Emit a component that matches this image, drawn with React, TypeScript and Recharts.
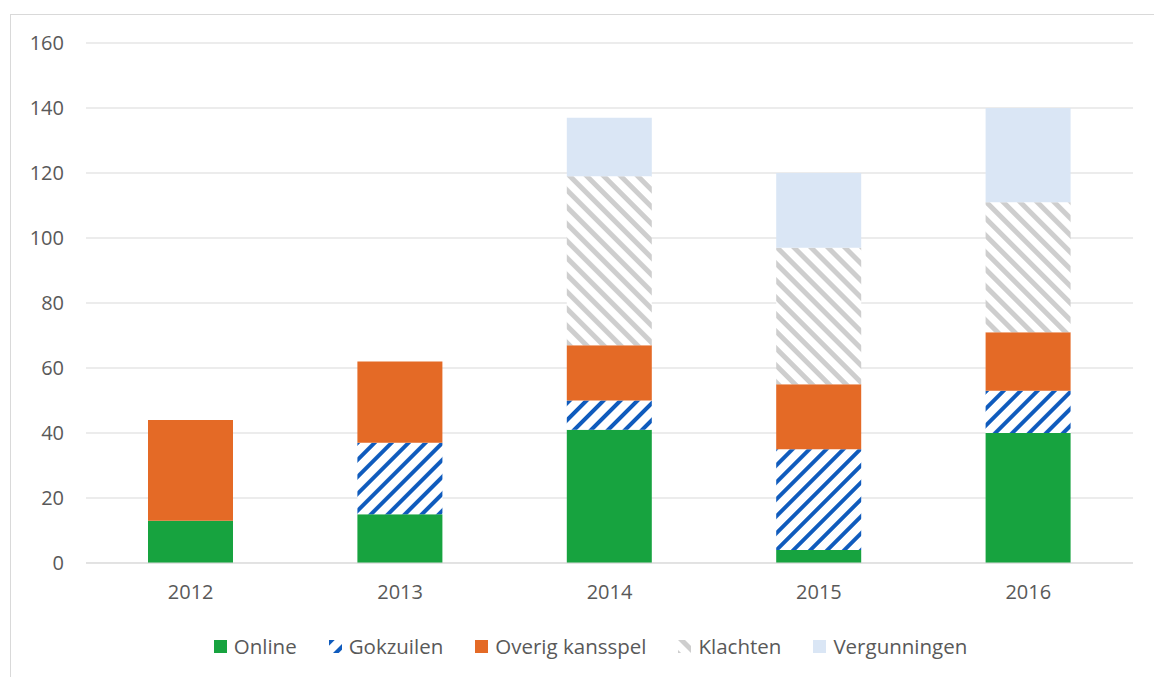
import React from 'react';
import { BarChart, Bar, XAxis, YAxis, CartesianGrid, Legend } from 'recharts';

const years = ['2012', '2013', '2014', '2015', '2016'];
const online = [13, 15, 41, 4, 40];
const gokzuilen = [0, 22, 9, 31, 13];
const overig = [31, 25, 17, 20, 18];
const klachten = [0, 0, 52, 42, 40];
const vergunningen = [0, 0, 18, 23, 29];
const yTicks = [0, 20, 40, 60, 80, 100, 120, 140, 160];

const SERIES = [
  { key: 'online', name: 'Online', fill: '#17a33f' },
  { key: 'gokzuilen', name: 'Gokzuilen', fill: 'url(#gokStripes)' },
  { key: 'overig', name: 'Overig kansspel', fill: '#e46a26' },
  { key: 'klachten', name: 'Klachten', fill: 'url(#klachtStripes)' },
  { key: 'vergunningen', name: 'Vergunningen', fill: '#dae6f5' },
];

const data = years.map((year, i) => ({
  year,
  online: online[i],
  gokzuilen: gokzuilen[i],
  overig: overig[i],
  klachten: klachten[i],
  vergunningen: vergunningen[i],
}));

const FONT = '"Open Sans", "Liberation Sans", sans-serif';

// pattern defs shared by bars and legend icons
const Patterns = () => (
  <defs>
    <pattern id="gokStripes" width="12" height="12" patternUnits="userSpaceOnUse" patternTransform="rotate(45)">
      <rect width="12" height="12" fill="#ffffff" />
      <rect x="0" y="0" width="4" height="12" fill="#0f5bbd" />
    </pattern>
    <pattern id="klachtStripes" width="12" height="12" patternUnits="userSpaceOnUse" patternTransform="rotate(-45)">
      <rect width="12" height="12" fill="#ffffff" />
      <rect x="0" y="0" width="5" height="12" fill="#cecece" />
    </pattern>
  </defs>
);

const LegendContent = () => (
  <div style={{ display: 'flex', justifyContent: 'center', height: 28, paddingLeft: 38, fontFamily: FONT, fontSize: 20.5, color: '#595959' }}>
    {SERIES.map((s) => (
      <div key={s.key} style={{ display: 'flex', alignItems: 'center', margin: '0 16px' }}>
        <svg width={13} height={13} style={{ marginRight: 7 }}>
          <rect width={13} height={13} fill={s.fill} />
        </svg>
        <span>{s.name}</span>
      </div>
    ))}
  </div>
);

export default function App() {
  return (
    <div style={{ position: 'absolute', left: 0, top: 0, width: 1154, height: 677, background: '#fff', overflow: 'hidden' }}>
      <div style={{ position: 'absolute', left: 10, top: 14, width: 1160, height: 700, border: '1px solid #d9d9d9' }} />
      <div style={{ position: 'absolute', left: 0, top: 0 }}>
        <BarChart
          width={1154}
          height={677}
          data={data}
          margin={{ top: 43, right: 21, left: 10, bottom: 16 }}
          barSize={85}
        >
          <Patterns />
          <CartesianGrid vertical={false} stroke="#d9d9d9" />
          <XAxis
            dataKey="year"
            axisLine={{ stroke: '#d9d9d9' }}
            tickLine={false}
            tickSize={0}
            tickMargin={22}
            height={70}
            tick={{ fill: '#595959', fontSize: 20, fontFamily: FONT }}
          />
          <YAxis
            width={76}
            domain={[0, 160]}
            ticks={yTicks}
            axisLine={false}
            tickLine={false}
            tickSize={0}
            tickMargin={22}
            tick={{ fill: '#595959', fontSize: 20, fontFamily: FONT }}
          />
          {SERIES.map((s) => (
            <Bar key={s.key} dataKey={s.key} name={s.name} stackId="a" fill={s.fill} isAnimationActive={false} />
          ))}
          <Legend verticalAlign="bottom" content={<LegendContent />} wrapperStyle={{ bottom: 17 }} />
        </BarChart>
      </div>
    </div>
  );
}
